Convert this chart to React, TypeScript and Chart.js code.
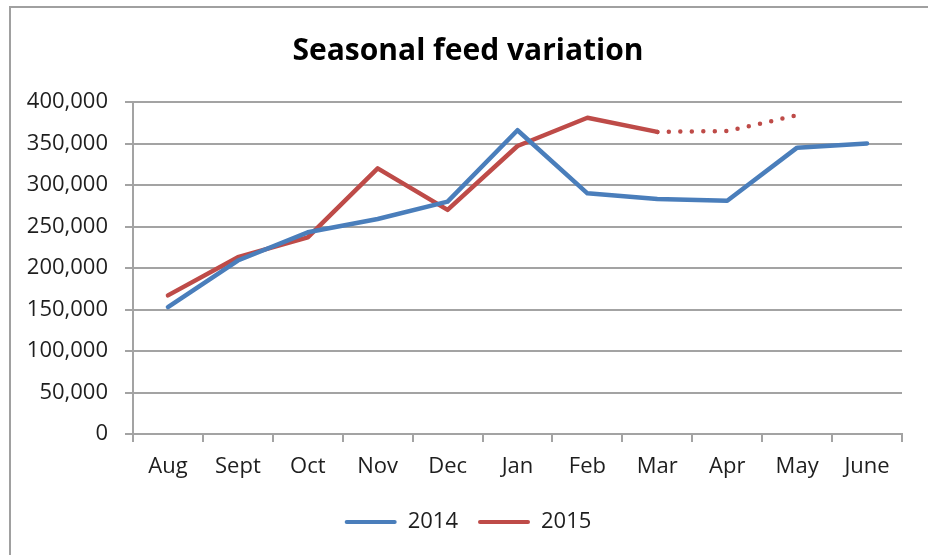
import React, { useEffect, useRef } from "react";
import { Chart, registerables } from "chart.js";

Chart.register(...registerables);

// ---- data ----
const months = ["Aug", "Sept", "Oct", "Nov", "Dec", "Jan", "Feb", "Mar", "Apr", "May", "June"];
const values2014 = [153000, 209000, 243000, 259000, 280000, 366000, 290000, 283000, 281000, 345000, 350000];
const values2015 = [167000, 213000, 237000, 320000, 270000, 347000, 381000, 364000, 365000, 384000, null];
const projectedFromIndex = 7; // 2015 segments after "Mar" are projected (dotted)
const yMin = 0;
const yMax = 400000;
const yStep = 50000;
const titleText = "Seasonal feed variation";
const seriesNames = ["2014", "2015"];

const BLUE = "#4a7ebb";
const RED = "#be4b48";
const GRID = "#a3a3a3";
const TEXT = "#1e1e1e";
const FONT = "'Open Sans', Lato, sans-serif";

// let the y tick labels extend to the canvas' left edge (Chart.js clips them to the scale box)
const widenYLabelArea = {
  id: "widenYLabelArea",
  afterLayout(chart: any) {
    const y = chart.scales?.y;
    if (y) y.left = 0;
  },
};

export default function App() {
  const canvasRef = useRef<HTMLCanvasElement | null>(null);

  useEffect(() => {
    const canvas = canvasRef.current;
    if (!canvas) return;
    const chart = new Chart(canvas, {
      type: "line",
      plugins: [widenYLabelArea],
      data: {
        labels: months,
        datasets: [
          {
            label: seriesNames[0],
            data: values2014,
            borderColor: BLUE,
            backgroundColor: BLUE,
            borderWidth: 4.5,
            borderCapStyle: "round",
            borderJoinStyle: "round",
            pointRadius: 0,
            pointHoverRadius: 0,
            tension: 0,
            fill: false,
          },
          {
            label: seriesNames[1],
            data: values2015,
            borderColor: RED,
            backgroundColor: RED,
            borderWidth: 4.5,
            borderCapStyle: "round",
            borderJoinStyle: "round",
            pointRadius: 0,
            pointHoverRadius: 0,
            tension: 0,
            fill: false,
            segment: {
              borderDash: (ctx: any) => (ctx.p0DataIndex >= projectedFromIndex ? [0, 11.5] : undefined),
            },
          },
        ],
      },
      options: {
        responsive: false,
        animation: false,
        devicePixelRatio: 1,
        layout: { padding: { left: 34, right: 26, top: 0, bottom: 12 } },
        plugins: {
          tooltip: { enabled: false },
          title: {
            display: true,
            text: titleText,
            color: "#000",
            font: { family: FONT, size: 30, weight: "bold" },
            padding: { top: 33, bottom: 33 },
          },
          legend: {
            display: true,
            position: "bottom",
            labels: {
              boxWidth: 52,
              boxHeight: 4,
              padding: 20,
              color: TEXT,
              font: { family: FONT, size: 22 },
              generateLabels: (ch: any) =>
                (Chart.defaults.plugins.legend.labels as any)
                  .generateLabels(ch)
                  .map((l: any) => ({ ...l, fillStyle: l.strokeStyle, lineWidth: 0, lineDash: [], borderRadius: 2 })),
            },
          },
        },
        scales: {
          x: {
            type: "category",
            offset: true,
            afterFit: (scale: any) => {
              scale.height = 57;
            },
            grid: {
              display: true,
              offset: true,
              drawOnChartArea: false,
              drawTicks: true,
              tickLength: 8,
              color: GRID,
              lineWidth: 2,
            },
            border: { display: true, color: GRID, width: 2 },
            ticks: {
              color: TEXT,
              font: { family: FONT, size: 22 },
              padding: 12,
              maxRotation: 0,
              autoSkip: false,
            },
          },
          y: {
            min: yMin,
            max: yMax,
            afterFit: (scale: any) => {
              scale.width = 99;
            },
            grid: {
              display: true,
              drawTicks: true,
              tickLength: 8,
              color: GRID,
              lineWidth: 2,
            },
            border: { display: true, color: GRID, width: 2 },
            ticks: {
              stepSize: yStep,
              color: TEXT,
              font: { family: FONT, size: 22 },
              padding: 17,
              callback: (v: any) => Number(v).toLocaleString("en-US"),
            },
          },
        },
      },
    });
    return () => chart.destroy();
  }, []);

  return (
    <div
      style={{
        position: "fixed",
        left: 0,
        top: 0,
        width: 928,
        height: 555,
        overflow: "hidden",
        background: "#fff",
      }}
    >
      <div
        style={{
          position: "absolute",
          left: 9,
          top: 6,
          width: 1000,
          height: 1000,
          border: "2px solid #a0a0a0",
          boxSizing: "border-box",
        }}
      />
      <canvas
        ref={canvasRef}
        width={928}
        height={555}
        style={{ position: "absolute", left: 0, top: 0, width: 928, height: 555 }}
      />
    </div>
  );
}
